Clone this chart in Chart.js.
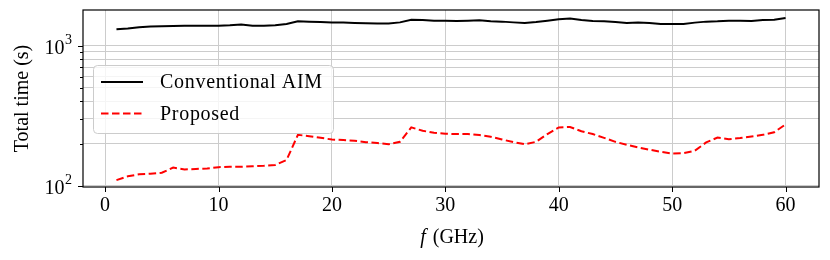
<!DOCTYPE html>
<html><head><meta charset="utf-8">
<script src="https://cdn.jsdelivr.net/npm/chart.js@4/dist/chart.umd.min.js"></script>
<style>html,body{margin:0;padding:0;background:#fff}#wrap{width:830px;height:260px;position:relative}</style>
</head><body><div id="wrap"><canvas id="c"></canvas></div>
<script>
const freqs = [1,2,3,4,5,6,7,8,9,10,11,12,13,14,15,16,17,18,19,20,21,22,23,24,25,26,27,28,29,30,31,32,33,34,35,36,37,38,39,40,41,42,43,44,45,46,47,48,49,50,51,52,53,54,55,56,57,58,59,60];
const aimTimes = [1305,1320,1349,1364,1370,1380,1386,1386,1386,1383,1393,1409,1386,1386,1393,1425,1487,1480,1472,1460,1456,1448,1441,1433,1433,1462,1528,1520,1504,1504,1496,1504,1512,1487,1480,1462,1448,1472,1504,1536,1556,1520,1496,1487,1472,1448,1456,1448,1425,1425,1425,1456,1480,1487,1504,1504,1496,1520,1528,1570];
const proposedTimes = [110,117,121,122,124,135,131,132,133,136,137,137,138,139,141,153,231,226,220,214,212,210,205,202,198,206,261,247,239,235,234,234,230,224,214,205,198,206,234,261,263,245,234,220,206,196,188,181,175,170,171,178,204,221,215,219,225,231,241,274];
const xTicks = [0,10,20,30,40,50,60];
const yMajorTicks = [100,1000];
const yMinorTicks = [200,300,400,500,600,700,800,900];
const yTickBase = '10';
const yTickExponents = {100:'2',1000:'3'};
const seriesNames = ['Conventional AIM','Proposed'];
const xTitleItalic = 'f';
const xTitleRest = ' (GHz)';
const yTitle = 'Total time (s)';

const SERIF = '"Liberation Serif", "Times New Roman", serif';
const GRID = '#cccccc';

const decor = {
  id: 'decor',
  afterDraw(chart) {
    const {ctx, chartArea: a, scales: {x, y}} = chart;
    ctx.save();
    ctx.strokeStyle = '#000';
    ctx.lineWidth = 1;
    const seg = (x1, y1, x2, y2) => { ctx.beginPath(); ctx.moveTo(x1, y1); ctx.lineTo(x2, y2); ctx.stroke(); };
    xTicks.forEach(v => { const p = Math.round(x.getPixelForValue(v)) + 0.5; seg(p, a.bottom, p, a.bottom + 5); });
    yMajorTicks.forEach(v => { const p = Math.round(y.getPixelForValue(v)) + 0.5; seg(a.left - 5, p, a.left, p); });
    yMinorTicks.forEach(v => { const p = Math.round(y.getPixelForValue(v)) + 0.5; seg(a.left - 3, p, a.left, p); });
    ctx.lineWidth = 1.2;
    ctx.strokeRect(a.left, a.top, a.right - a.left, a.bottom - a.top);

    // y tick labels 10^n
    ctx.fillStyle = '#000';
    ctx.textAlign = 'right';
    ctx.textBaseline = 'alphabetic';
    yMajorTicks.forEach(v => {
      const p = y.getPixelForValue(v);
      const right = a.left - 11;
      ctx.font = '14px ' + SERIF;
      const e = yTickExponents[v];
      const we = ctx.measureText(e).width;
      ctx.fillText(e, right, p - 1.5);
      ctx.font = '20px ' + SERIF;
      ctx.fillText(yTickBase, right - we - 0.5, p + 8.5);
    });

    // legend
    const lx = a.left + 10, ly = a.top + 55, lw = 240, lh = 68;
    ctx.beginPath();
    ctx.roundRect(lx + 0.5, ly + 0.5, lw, lh, 4);
    ctx.fillStyle = 'rgba(255,255,255,0.8)';
    ctx.fill();
    ctx.strokeStyle = '#cccccc';
    ctx.lineWidth = 1;
    ctx.stroke();
    ctx.font = '20px ' + SERIF;
    ctx.textBaseline = 'middle';
    ctx.textAlign = 'left';
    chart.data.datasets.forEach((ds, i) => {
      const yy = ly + 17 + i * 31.5;
      ctx.strokeStyle = ds.borderColor;
      ctx.lineWidth = ds.borderWidth;
      ctx.setLineDash(ds.borderDash || []);
      seg(lx + 8, yy, lx + 50, yy);
      ctx.setLineDash([]);
      ctx.fillStyle = '#000';
      ctx.letterSpacing = '0.7px';
      ctx.fillText(ds.label, lx + 67, yy + 1);
      ctx.letterSpacing = '0px';
    });

    // x title with italic f
    ctx.fillStyle = '#000';
    ctx.textBaseline = 'middle';
    const fI = 'italic 20px ' + SERIF, fR = '20px ' + SERIF;
    ctx.font = fI; const w1 = ctx.measureText(xTitleItalic).width;
    ctx.font = fR; const w2 = ctx.measureText(xTitleRest).width;
    const cx = (a.left + a.right) / 2, startX = cx - (w1 + w2) / 2, ty = 238;
    ctx.font = fI; ctx.fillText(xTitleItalic, startX, ty);
    ctx.font = fR; ctx.fillText(xTitleRest, startX + w1 + 2, ty);
    ctx.restore();
  }
};

new Chart(document.getElementById('c'), {
  type: 'line',
  data: {
    datasets: [
      { label: seriesNames[0], data: freqs.map((f, i) => ({x: f, y: aimTimes[i]})),
        borderColor: '#000000', borderWidth: 2, pointRadius: 0, tension: 0, fill: false },
      { label: seriesNames[1], data: freqs.map((f, i) => ({x: f, y: proposedTimes[i]})),
        borderColor: '#ff0000', borderWidth: 2, borderDash: [7.5, 3.5], pointRadius: 0, tension: 0, fill: false }
    ]
  },
  options: {
    responsive: true, maintainAspectRatio: false, animation: false,
    layout: { padding: { left: 0, top: 10, right: 11, bottom: 0 } },
    plugins: { legend: { display: false }, tooltip: { enabled: false } },
    scales: {
      x: {
        type: 'linear', min: -1.95, max: 62.95,
        afterBuildTicks: s => { s.ticks = xTicks.map(v => ({value: v})); },
        afterFit: s => { s.height = 73; s.paddingLeft = 0; s.paddingRight = 0; },
        ticks: { autoSkip: false, maxRotation: 0, color: '#000', padding: 7,
                 font: { family: SERIF, size: 20 }, callback: v => String(v) },
        grid: { color: GRID, lineWidth: 1, drawTicks: false },
        border: { display: false }
      },
      y: {
        type: 'logarithmic', min: 98.2, max: 1791,
        afterBuildTicks: s => { s.ticks = yMajorTicks.concat(yMinorTicks).sort((p, q) => p - q).map(v => ({value: v})); },
        afterFit: s => { s.width = 83; s.paddingTop = 0; s.paddingBottom = 0; },
        ticks: { autoSkip: false, color: '#000', padding: 10,
                 font: { family: SERIF, size: 20 }, callback: () => '' },
        grid: { color: GRID, lineWidth: 1, drawTicks: false },
        border: { display: false },
        title: { display: true, text: yTitle, color: '#000', font: { family: SERIF, size: 20 },
                 padding: { top: 11, bottom: 0 } }
      }
    }
  },
  plugins: [decor]
});
</script></body></html>
